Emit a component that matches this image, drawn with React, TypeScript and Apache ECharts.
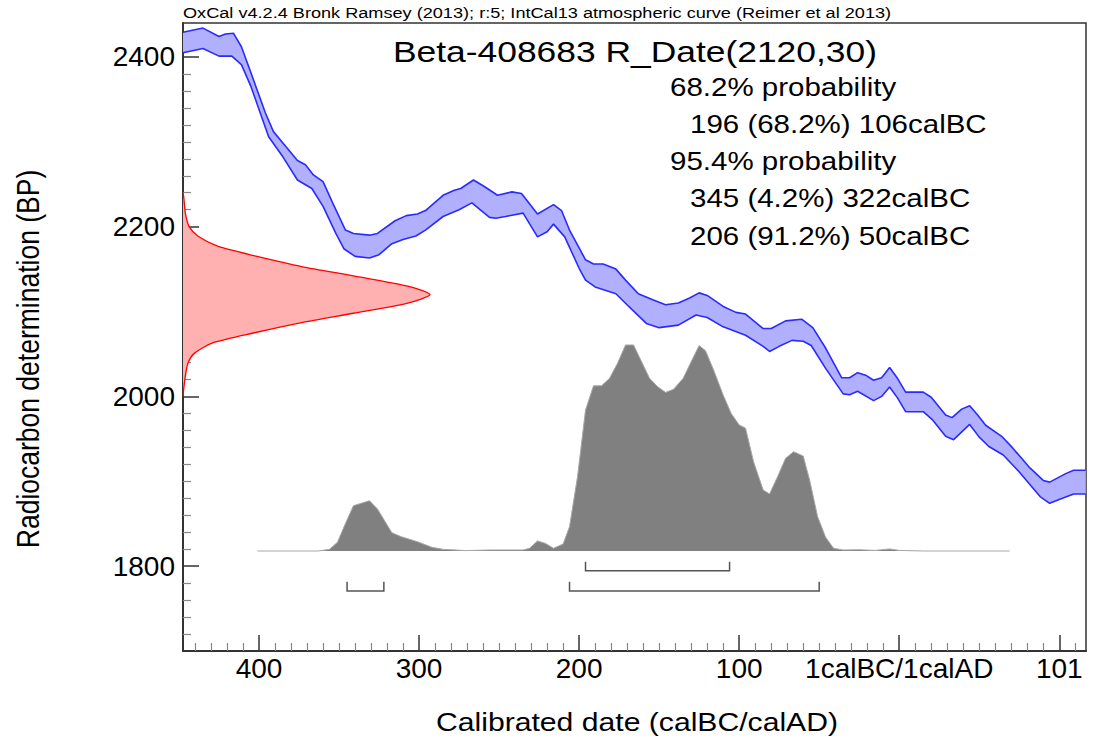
import React, { useEffect, useRef } from 'react';
import * as echarts from 'echarts';

// ---------- text ----------
const headerText = 'OxCal v4.2.4 Bronk Ramsey (2013); r:5; IntCal13 atmospheric curve (Reimer et al 2013)';
const titleText = 'Beta-408683 R_Date(2120,30)';
const headings = ['68.2% probability', '95.4% probability'];
const rangeLines68 = ['196 (68.2%) 106calBC'];
const rangeLines95 = ['345 (4.2%) 322calBC', '206 (91.2%) 50calBC'];
const xAxisTitle = 'Calibrated date (calBC/calAD)';
const yAxisTitle = 'Radiocarbon determination (BP)';

// ---------- ticks ----------
const xTickValues = [-400, -300, -200, -100, 0, 100];
const xTickLabels = ['400', '300', '200', '100', '1calBC/1calAD', '101'];
const yTickValues = [1800, 2000, 2200, 2400];
const yTickLabels = ['1800', '2000', '2200', '2400'];

// ---------- IntCal13 curve band (calendar year, BP; BC negative) ----------
const upperYear = [-447.5, -435, -425, -421, -416, -411, -405, -396, -391, -383, -376, -371, -366, -360, -354, -346, -341, -331, -326, -315, -308, -301, -296, -285, -278, -274, -266, -259, -251, -242, -236, -226, -216, -211, -206, -196, -191, -185, -177, -171, -163, -154, -146, -138, -131, -125, -120, -110, -102, -96, -85, -80, -71, -61, -54, -46, -36, -31, -26, -21, -16, -11, -6, -1, 4, 15, 20, 29, 33, 39, 44, 49, 54, 64, 71, 81, 90, 94, 104, 109, 116.5];
const upperBP = [2429, 2434, 2424, 2427, 2428, 2412, 2381, 2334, 2312, 2294, 2278, 2273, 2261, 2253, 2228, 2196, 2192, 2190, 2192, 2207, 2213, 2215, 2219, 2237, 2243, 2245, 2255, 2247, 2237, 2241, 2239, 2215, 2226, 2219, 2196, 2161, 2156, 2156, 2150, 2137, 2121, 2114, 2108, 2110, 2116, 2122, 2119, 2106, 2099, 2097, 2080, 2080, 2089, 2091, 2081, 2057, 2022, 2022, 2028, 2025, 2019, 2022, 2034, 2021, 2005, 2005, 1999, 1978, 1975, 1985, 1989, 1978, 1966, 1953, 1939, 1917, 1901, 1899, 1909, 1913, 1913];
const lowerYear = [-447.5, -435, -425, -417, -411, -405, -400, -394, -385, -376, -367, -360, -352, -347, -340, -331, -325, -317, -310, -302, -296, -285, -275, -267, -256, -252, -246, -235, -226, -220, -216, -209, -200, -196, -190, -177, -169, -158, -150, -138, -127, -120, -110, -96, -85, -81, -75, -67, -60, -55, -46, -35, -31, -26, -16, -11, -6, -1, 4, 15, 21, 29, 34, 44, 50, 56, 65, 75, 88, 94, 102, 109, 116.5];
const lowerBP = [2405, 2410, 2401, 2401, 2391, 2365, 2338, 2306, 2282, 2255, 2245, 2224, 2192, 2174, 2165, 2163, 2167, 2180, 2185, 2189, 2196, 2212, 2220, 2228, 2211, 2210, 2212, 2216, 2188, 2194, 2203, 2188, 2151, 2137, 2129, 2121, 2106, 2086, 2081, 2084, 2096, 2093, 2082, 2072, 2059, 2053, 2059, 2066, 2065, 2060, 2033, 2003, 2002, 2006, 1995, 2000, 2011, 1998, 1982, 1982, 1972, 1953, 1949, 1967, 1952, 1941, 1931, 1911, 1882, 1874, 1880, 1885, 1885];

// ---------- radiocarbon measurement distribution (BP, relative density) ----------
const redBP = [2240, 2235, 2215, 2200, 2189, 2177, 2165, 2153, 2142, 2130, 2120, 2110, 2098, 2087, 2075, 2063, 2051, 2039, 2019, 2003, 2000];
const redDensity = [0, 0.003, 0.01, 0.025, 0.06, 0.14, 0.3, 0.48, 0.69, 0.91, 1.0, 0.91, 0.69, 0.48, 0.29, 0.12, 0.047, 0.02, 0.007, 0.001, 0];

// ---------- calibrated distribution (calendar year, relative probability %) ----------
const calYear = [-401, -363, -356, -351, -346, -341, -331, -326, -317, -311, -301, -292, -285, -271, -256, -248, -235, -231, -226, -221, -216, -210, -206, -201, -196, -191, -186, -181, -176, -171, -166, -156, -151, -146, -141, -135, -130, -125, -121, -116, -110, -105, -100, -96, -91, -85, -81, -76, -71, -66, -60, -56, -51, -46, -41, -35, -25, -15, -6, 0, 15, 69];
const calProb = [0, 0, 0.8, 4.2, 13.4, 22, 24.4, 20.4, 8.9, 6.9, 4.5, 1.8, 0.8, 0.2, 0.5, 0.5, 0.5, 1.3, 4.9, 3.7, 1.3, 3.4, 11.8, 36.1, 68.4, 80.2, 80.2, 83.8, 91.1, 100, 100, 83.8, 79.8, 77, 78.5, 83.8, 91.9, 99.7, 97.2, 87.9, 75.7, 66.8, 61.2, 59.6, 43.3, 29.6, 27.7, 36.1, 45, 48.2, 46.1, 34.5, 16.7, 6.7, 1.3, 0.5, 0.6, 0.3, 1, 0.3, 0, 0];

// ---------- ranges ----------
const range68 = [[-196, -106]];
const range95 = [[-345, -322], [-206, -50]];

const FONT = "'Liberation Sans', Arial, sans-serif";

export default function App() {
  const ref = useRef<HTMLDivElement>(null);

  useEffect(() => {
    if (!ref.current) return;
    document.body.style.margin = '0';
    const chart = echarts.init(ref.current, null, { renderer: 'svg' });

    const xMin = -447.5;
    const xMax = 116.7;
    const minorYears: number[] = [];
    for (let v = -440; v <= 110; v += 10) if (v % 100 !== 0) minorYears.push(v);
    const minorBP: number[] = [];
    for (let v = 1720; v <= 2420; v += 20) if (v % 200 !== 0) minorBP.push(v);

    // probability axis: 0 sits at baseline, 100 = peak
    const probMin = -48.54;
    const probMax = 256.3;

    const bracketRender = (lvlTop: number, lvl: number) => (params: any, api: any) => {
      const s = api.value(0);
      const e = api.value(1);
      const pts = [
        api.coord([s, lvlTop]),
        api.coord([s, lvl]),
        api.coord([e, lvl]),
        api.coord([e, lvlTop]),
      ];
      return {
        type: 'polyline',
        shape: { points: pts },
        style: { stroke: '#555', lineWidth: 1.5, fill: null },
      };
    };

    const textEl = (text: string, x: number, y: number, size: number, sx: number, align = 'left') => ({
      type: 'text',
      x,
      y,
      scaleX: sx,
      silent: true,
      style: {
        text,
        fontSize: size,
        fontFamily: FONT,
        fill: '#000',
        align,
        textAlign: align,
        verticalAlign: 'middle',
        textVerticalAlign: 'middle',
      },
    });

    const option: any = {
      animation: false,
      backgroundColor: '#fff',
      grid: {
        left: 183,
        right: 10,
        top: 23,
        bottom: 97,
        show: true,
        borderColor: '#333',
        borderWidth: 1.5,
        backgroundColor: 'transparent',
        containLabel: false,
        outerBoundsMode: 'none',
      },
      xAxis: [
        {
          type: 'value',
          min: xMin,
          max: xMax,
          position: 'bottom',
          axisLine: { show: true, onZero: false, lineStyle: { color: '#333', width: 2 } },
          axisTick: { show: true, inside: true, length: 16, customValues: xTickValues, lineStyle: { color: '#333', width: 1.5 } },
          axisLabel: {
            show: true,
            customValues: xTickValues,
            formatter: (v: number) => {
              const i = xTickValues.indexOf(v);
              return i >= 0 ? xTickLabels[i] : '';
            },
            fontSize: 28,
            fontFamily: FONT,
            color: '#000',
            margin: 3,
          },
          splitLine: { show: false },
        },
        {
          type: 'value',
          min: xMin,
          max: xMax,
          position: 'bottom',
          axisLine: { show: false, onZero: false },
          axisTick: { show: true, inside: true, length: 8, customValues: minorYears, lineStyle: { color: '#888', width: 1.2 } },
          axisLabel: { show: false },
          splitLine: { show: false },
        },
        {
          type: 'value',
          min: 0,
          max: 3.656,
          position: 'top',
          show: false,
          splitLine: { show: false },
        },
      ],
      yAxis: [
        {
          type: 'value',
          min: 1700,
          max: 2440,
          position: 'left',
          axisLine: { show: true, onZero: false, lineStyle: { color: '#333', width: 2 } },
          axisTick: { show: true, inside: true, length: 16, customValues: yTickValues, lineStyle: { color: '#333', width: 1.5 } },
          axisLabel: {
            show: true,
            customValues: yTickValues,
            formatter: (v: number) => {
              const i = yTickValues.indexOf(v);
              return i >= 0 ? yTickLabels[i] : '';
            },
            fontSize: 28,
            fontFamily: FONT,
            color: '#000',
            margin: 8,
          },
          splitLine: { show: false },
        },
        {
          type: 'value',
          min: 1700,
          max: 2440,
          position: 'left',
          axisLine: { show: false, onZero: false },
          axisTick: { show: true, inside: true, length: 8, customValues: minorBP, lineStyle: { color: '#888', width: 1.2 } },
          axisLabel: { show: false },
          splitLine: { show: false },
        },
        {
          type: 'value',
          min: probMin,
          max: probMax,
          position: 'right',
          show: false,
          splitLine: { show: false },
        },
      ],
      series: [
        {
          type: 'custom',
          name: 'band',
          xAxisIndex: 0,
          yAxisIndex: 0,
          silent: true,
          z: 1,
          data: [[upperYear[0], upperBP[0]]],
          renderItem: (params: any, api: any) => {
            const pts: number[][] = [];
            for (let i = 0; i < upperYear.length; i++) pts.push(api.coord([upperYear[i], upperBP[i]]));
            for (let i = lowerYear.length - 1; i >= 0; i--) pts.push(api.coord([lowerYear[i], lowerBP[i]]));
            return { type: 'polygon', shape: { points: pts }, style: { fill: '#b0b0ff', stroke: null } };
          },
        },
        {
          type: 'line',
          name: 'upper',
          xAxisIndex: 0,
          yAxisIndex: 0,
          showSymbol: false,
          silent: true,
          z: 3,
          data: upperYear.map((y, i) => [y, upperBP[i]]),
          lineStyle: { color: '#2a2aff', width: 1.6 },
        },
        {
          type: 'line',
          name: 'lower',
          xAxisIndex: 0,
          yAxisIndex: 0,
          showSymbol: false,
          silent: true,
          z: 3,
          data: lowerYear.map((y, i) => [y, lowerBP[i]]),
          lineStyle: { color: '#2a2aff', width: 1.6 },
        },
        {
          type: 'custom',
          name: 'measurement',
          xAxisIndex: 2,
          yAxisIndex: 0,
          silent: true,
          z: 2,
          data: [[redDensity[0], redBP[0]]],
          renderItem: (params: any, api: any) => {
            const curve = redBP.map((bp, i) => api.coord([redDensity[i], bp]));
            let x0 = Infinity, y0 = Infinity, x1 = -Infinity, y1 = -Infinity;
            curve.forEach((p: number[]) => {
              x0 = Math.min(x0, p[0]); y0 = Math.min(y0, p[1]);
              x1 = Math.max(x1, p[0]); y1 = Math.max(y1, p[1]);
            });
            const constraint = [[x0, y0], [x1, y1]];
            return {
              type: 'group',
              children: [
                { type: 'polygon', shape: { points: curve, smooth: 0.25, smoothConstraint: constraint }, style: { fill: '#ffb0b0', stroke: null } },
                { type: 'polyline', shape: { points: curve, smooth: 0.25, smoothConstraint: constraint }, style: { stroke: '#ff0000', lineWidth: 1.3, fill: null } },
              ],
            };
          },
        },
        {
          type: 'line',
          name: 'calibrated',
          xAxisIndex: 0,
          yAxisIndex: 2,
          showSymbol: false,
          silent: true,
          z: 2,
          data: calYear.map((y, i) => [y, calProb[i]]),
          lineStyle: { color: '#a8a8a8', width: 1 },
          areaStyle: { color: '#808080', opacity: 1, origin: 0 },
        },
        {
          type: 'custom',
          name: 'range68',
          xAxisIndex: 0,
          yAxisIndex: 2,
          silent: true,
          data: range68,
          renderItem: bracketRender(-5.19, -9.56),
        },
        {
          type: 'custom',
          name: 'range95',
          xAxisIndex: 0,
          yAxisIndex: 2,
          silent: true,
          data: range95,
          renderItem: bracketRender(-14.9, -19.4),
        },
      ],
      graphic: [
        textEl(headerText, 183, 13.5, 15, 1.21),
        textEl(titleText, 393, 51, 30, 1.18),
        textEl(headings[0], 670, 87, 25, 1.18),
        textEl(rangeLines68[0], 690, 124, 25, 1.18),
        textEl(headings[1], 670, 161, 25, 1.18),
        textEl(rangeLines95[0], 690, 198.5, 25, 1.18),
        textEl(rangeLines95[1], 690, 236, 25, 1.18),
        textEl(xAxisTitle, 637, 722, 26, 1.16, 'center'),
        {
          type: 'text',
          x: 28,
          y: 359,
          rotation: Math.PI / 2,
          scaleY: 1.16,
          silent: true,
          style: {
            text: yAxisTitle,
            fontSize: 26.5,
            fontFamily: FONT,
            fill: '#000',
            align: 'center',
            textAlign: 'center',
            verticalAlign: 'middle',
            textVerticalAlign: 'middle',
          },
        },
      ],
    };

    chart.setOption(option);
    return () => chart.dispose();
  }, []);

  return (
    <div
      ref={ref}
      style={{ position: 'fixed', left: 0, top: 0, width: 1096, height: 748, background: '#fff' }}
    />
  );
}
